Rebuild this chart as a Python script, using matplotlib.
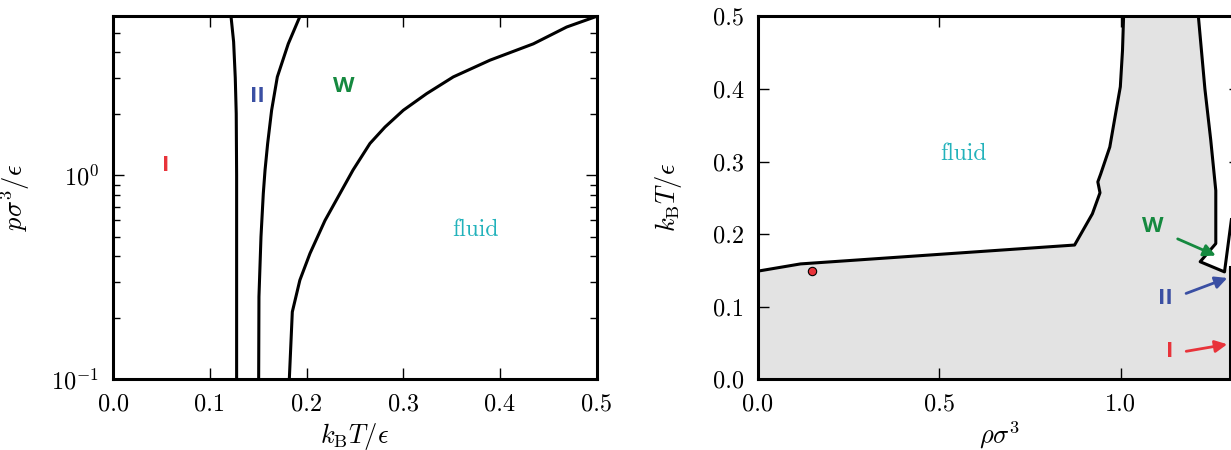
import numpy as np
import matplotlib
matplotlib.use("Agg")
import matplotlib.pyplot as plt

plt.rcParams['font.family'] = 'serif'
plt.rcParams['font.serif'] = ['cmr10', 'DejaVu Serif']
plt.rcParams['mathtext.fontset'] = 'cm'
plt.rcParams['axes.formatter.use_mathtext'] = True
plt.rcParams['axes.unicode_minus'] = False

# left panel: phase boundaries in (kT, p) plane
T_I_II = [0.1276, 0.1276, 0.1276, 0.1272, 0.1262, 0.1245, 0.1218]
p_I_II = [0.1, 0.5, 1.0, 2.0, 3.0, 4.5, 6.0]
T_II_W = [0.1504, 0.1507, 0.1528, 0.1552, 0.1570, 0.1597, 0.1638, 0.1697, 0.1810, 0.1931]
p_II_W = [0.1, 0.254, 0.499, 0.814, 1.06, 1.43, 2.08, 3.03, 4.4, 6.0]
T_W_fl = [0.1821, 0.1852, 0.1930, 0.2035, 0.2190, 0.2480, 0.2655, 0.2810,
          0.3000, 0.3242, 0.3517, 0.3897, 0.4345, 0.4690, 0.5000]
p_W_fl = [0.1, 0.214, 0.306, 0.414, 0.60, 1.06, 1.43, 1.72,
          2.08, 2.51, 3.03, 3.66, 4.4, 5.32, 6.0]

# right panel: (rho, kT) plane
rho_fluid = [0.0, 0.118, 0.873, 0.922, 0.943, 0.937, 0.945, 0.970, 0.986, 0.999, 1.005, 1.008]
T_fluid = [0.149, 0.159, 0.185, 0.228, 0.257, 0.272, 0.283, 0.320, 0.366, 0.403, 0.453, 0.500]
rho_solid = [1.214, 1.232, 1.248, 1.262, 1.262, 1.219, 1.286, 1.305]
T_solid = [0.500, 0.400, 0.330, 0.260, 0.187, 0.162, 0.148, 0.220]
rho_I = [1.301, 1.301]
T_I = [0.0, 0.155]
rho_pt, T_pt = 0.15, 0.149

red = '#e8333a'
blue = '#3a4fa3'
green = '#15893f'
cyan = '#22b2bb'

fig = plt.figure(figsize=(12.31, 4.5), dpi=100)
ax1 = fig.add_axes([0.0920, 0.157, 0.3927, 0.8067])
ax2 = fig.add_axes([0.6155, 0.157, 0.3922, 0.8067])

lw = 2.2
ax1.plot(T_I_II, p_I_II, color='black', lw=lw)
ax1.plot(T_II_W, p_II_W, color='black', lw=lw)
ax1.plot(T_W_fl, p_W_fl, color='black', lw=lw)
ax1.set_yscale('log')
ax1.set_xlim(0, 0.5)
ax1.set_ylim(0.1, 6.0)
ax1.set_xticks([0.0, 0.1, 0.2, 0.3, 0.4, 0.5])
ax1.set_xticklabels(['0.0', '0.1', '0.2', '0.3', '0.4', '0.5'])
ax1.set_xlabel(r'$k_{\rm B}T/\epsilon$', fontsize=19, labelpad=4)
ax1.set_ylabel(r'$p\sigma^3/\epsilon$', fontsize=19)
ax1.yaxis.set_label_coords(-0.169, 0.5)

lab = dict(family=['Open Sans', 'DejaVu Sans'], weight='bold', fontsize=16,
           ha='center', va='center')
ax1.text(0.054, 1.11, 'I', color=red, **lab)
ax1.text(0.149, 2.44, 'II', color=blue, **lab)
ax1.text(0.238, 2.73, 'W', color=green, **lab)
ax1.text(0.375, 0.542, 'fluid', color=cyan, fontsize=17, ha='center', va='center')

# gray coexistence region
poly_x = rho_fluid + rho_solid[:-1] + [rho_I[1], rho_I[0], 0.0]
poly_y = T_fluid + T_solid[:-1] + [T_I[1], T_I[0], 0.0]
ax2.fill(poly_x, poly_y, color='#e3e3e3', lw=0, zorder=1)
ax2.plot(rho_fluid, T_fluid, color='black', lw=lw, zorder=2)
ax2.plot(rho_solid, T_solid, color='black', lw=lw, zorder=2)
ax2.plot(rho_I, T_I, color='black', lw=lw, zorder=2)
ax2.plot([rho_pt], [T_pt], 'o', ms=6, mfc=red, mec='black', mew=0.8, zorder=3)
ax2.set_xlim(0, 1.33)
ax2.set_ylim(0, 0.5)
ax2.set_xticks([0.0, 0.5, 1.0])
ax2.set_xticklabels(['0.0', '0.5', '1.0'])
ax2.set_yticks([0.0, 0.1, 0.2, 0.3, 0.4, 0.5])
ax2.set_yticklabels(['0.0', '0.1', '0.2', '0.3', '0.4', '0.5'])
ax2.set_xlabel(r'$\rho\sigma^3$', fontsize=19, labelpad=3)
ax2.set_ylabel(r'$k_{\rm B}T/\epsilon$', fontsize=19)
ax2.yaxis.set_label_coords(-0.152, 0.5)
ax2.text(0.567, 0.31, 'fluid', color=cyan, fontsize=17, ha='center', va='center')

ax2.text(1.089, 0.210, 'W', color=green, **lab)
ax2.annotate('', xy=(1.269, 0.169), xytext=(1.150, 0.195),
             arrowprops=dict(arrowstyle='-|>', color=green, lw=2, mutation_scale=18))
ax2.text(1.122, 0.112, 'II', color=blue, **lab)
ax2.annotate('', xy=(1.301, 0.141), xytext=(1.173, 0.117),
             arrowprops=dict(arrowstyle='-|>', color=blue, lw=2, mutation_scale=18))
ax2.text(1.136, 0.038, 'I', color=red, **lab)
ax2.annotate('', xy=(1.301, 0.049), xytext=(1.173, 0.038),
             arrowprops=dict(arrowstyle='-|>', color=red, lw=2, mutation_scale=18))

for ax in (ax1, ax2):
    for s in ax.spines.values():
        s.set_linewidth(2.2)
    ax.tick_params(which='major', direction='in', length=8, width=1,
                   top=True, right=True, labelsize=17.5, pad=10)
    ax.tick_params(which='minor', direction='in', length=5, width=1,
                   top=True, right=True)

plt.savefig('out.png', dpi=100)
